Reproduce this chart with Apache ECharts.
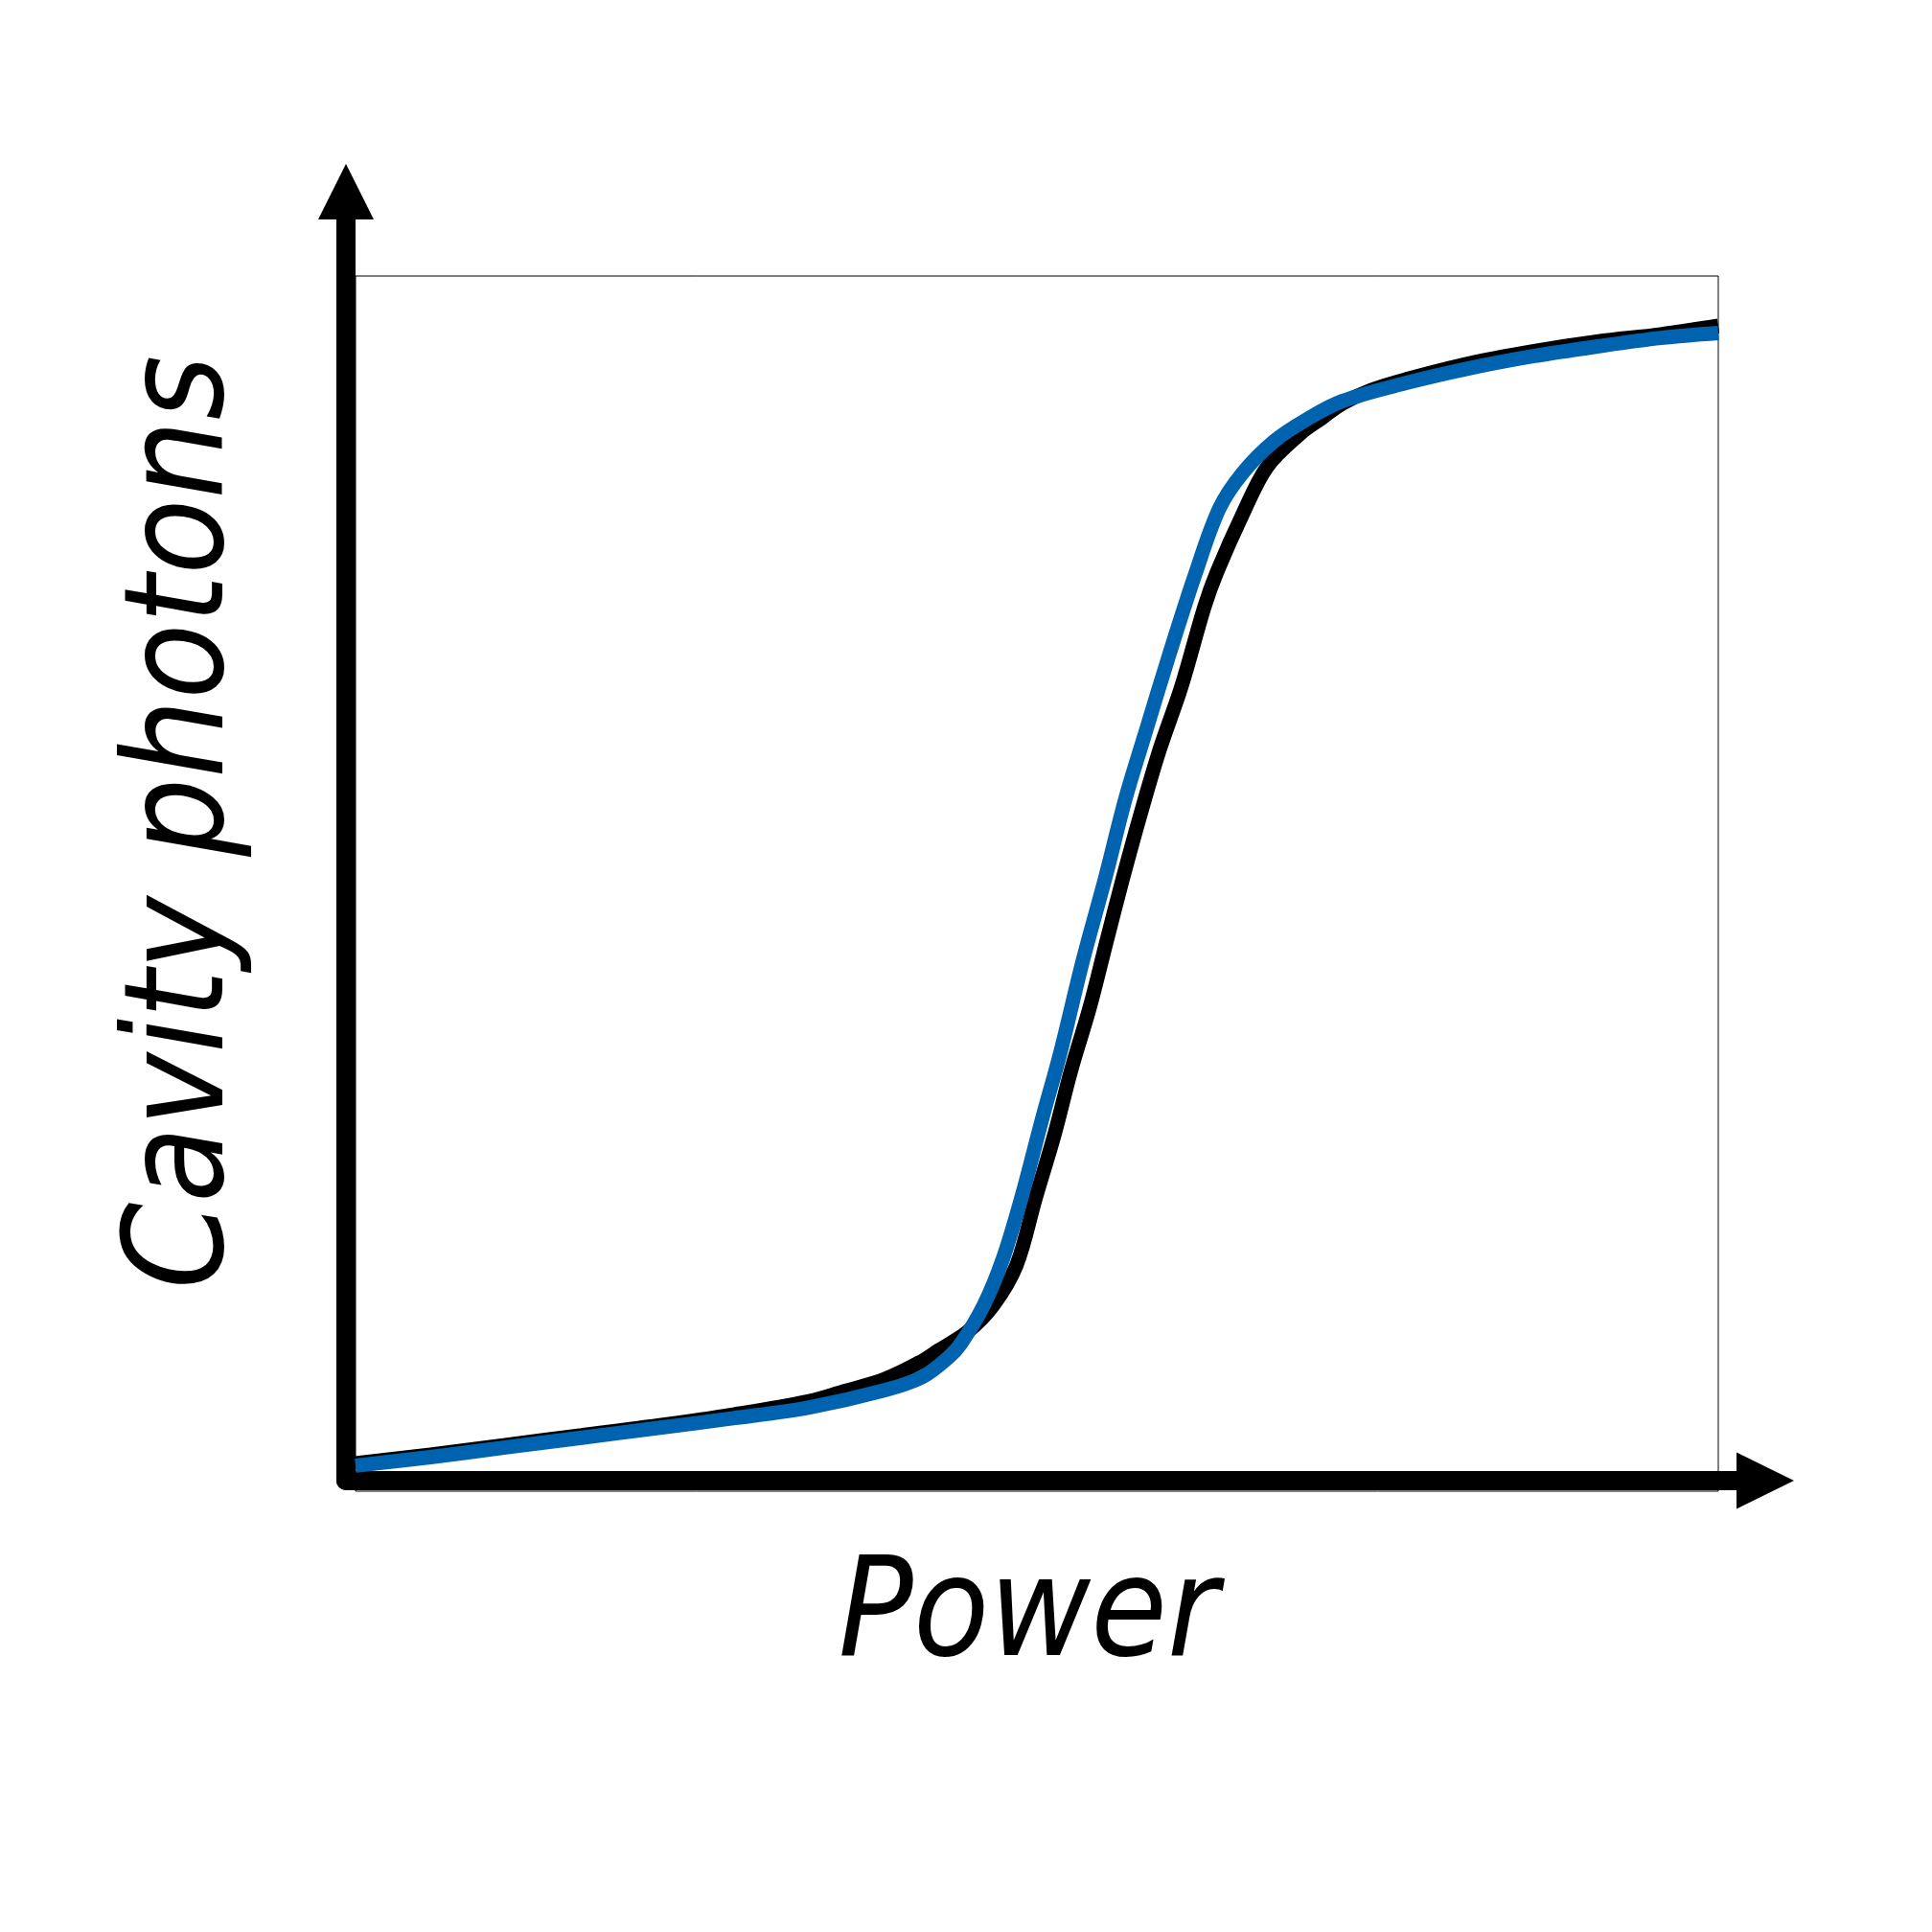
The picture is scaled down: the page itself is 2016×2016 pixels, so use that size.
<!DOCTYPE html>
<html>
<head>
<meta charset="utf-8">
<script src="https://cdn.jsdelivr.net/npm/echarts@6/dist/echarts.min.js"></script>
<style>
html,body{margin:0;padding:0;background:#fff;}
#chart{width:2016px;height:2016px;}
</style>
</head>
<body>
<div id="chart"></div>
<script>
// values, both axes in arbitrary units 0..100
var powerBlue   = [0, 5.5, 11.0, 16.6, 22.2, 27.7, 33.3, 38.8, 41.6, 43.5, 44.4, 46.1, 47.5, 48.9, 50.4, 51.7, 53.4, 55.0, 56.5, 57.9, 59.7, 61.6, 63.4, 65.1, 67.4, 69.8, 72.4, 77.1, 81.7, 86.4, 91.1, 95.8, 100];
var photonsBlue = [2.1, 2.8, 3.6, 4.4, 5.2, 6.0, 6.9, 8.3, 9.4, 11.0, 12.1, 15.3, 19.1, 24.3, 30.7, 36.0, 43.8, 50.4, 57.0, 62.2, 68.8, 75.4, 80.9, 83.8, 86.4, 88.2, 89.7, 91.2, 92.4, 93.4, 94.2, 94.9, 95.3];

var powerBlack   = [0, 5.5, 11.0, 16.6, 22.2, 27.7, 33.3, 35.8, 38.8, 41.4, 42.8, 44.9, 46.8, 48.5, 49.9, 51.3, 52.5, 53.9, 55.1, 56.3, 57.6, 59.0, 60.6, 62.3, 63.2, 65.1, 66.9, 69.3, 70.9, 72.4, 74.5, 77.1, 81.7, 86.4, 91.1, 95.8, 100];
var photonsBlack = [2.3, 3.0, 3.8, 4.6, 5.4, 6.3, 7.4, 8.2, 9.2, 10.6, 11.6, 13.1, 15.3, 18.6, 24.1, 29.4, 34.6, 39.9, 45.2, 50.4, 55.7, 61.0, 66.2, 72.8, 75.6, 80.4, 84.3, 87.0, 88.3, 89.5, 90.6, 91.5, 92.8, 93.8, 94.6, 95.2, 95.9];

var xName = 'Power';
var yName = 'Cavity photons';

function pairs(xs, ys){
    var out = [];
    for(let i in xs){
        out.push([xs[i], ys[i]]);
    }
    return out;
}

var chart = echarts.init(document.getElementById('chart'));

var nameFont = {
    fontSize: 144,
    fontStyle: 'italic',
    fontFamily: "'DejaVu Sans Condensed', 'DejaVu Sans', sans-serif",
    color: '#000'
};
var hidden = {
    axisLine: {show: false},
    axisTick: {show: false},
    axisLabel: {show: false},
    splitLine: {show: false}
};

option = {
    backgroundColor: '#fff',
    animation: false,
    grid: [
        {left: 371, top: 288, width: 1422, height: 1268, show: true, borderColor: '#000', borderWidth: 1},
        // second grid only carries the two arrow axes
        {left: 361, top: 200, width: 1481, height: 1345}
    ],
    xAxis: [
        Object.assign({
            gridIndex: 0, type: 'value', min: 0, max: 100,
            name: xName, nameLocation: 'middle', nameGap: 62,
            nameTextStyle: Object.assign({padding: [0, 18, 0, 0]}, nameFont)
        }, hidden),
        {
            gridIndex: 1, type: 'value', min: 0, max: 1,
            axisLine: {
                show: true, onZero: false,
                symbol: ['none', 'triangle'], symbolSize: [59, 60],
                lineStyle: {color: '#000', width: 20}
            },
            axisTick: {show: false}, axisLabel: {show: false}, splitLine: {show: false}
        }
    ],
    yAxis: [
        Object.assign({
            gridIndex: 0, type: 'value', min: 0, max: 100,
            name: yName, nameLocation: 'middle', nameGap: 104,
            nameTextStyle: Object.assign({padding: [0, 0, 0, 128]}, nameFont)
        }, hidden),
        {
            gridIndex: 1, type: 'value', min: 0, max: 1,
            axisLine: {
                show: true, onZero: false,
                symbol: ['none', 'triangle'], symbolSize: [58, 58],
                lineStyle: {color: '#000', width: 20}
            },
            axisTick: {show: false}, axisLabel: {show: false}, splitLine: {show: false}
        }
    ]
};

option.series = [
    {
        type: 'line', xAxisIndex: 0, yAxisIndex: 0,
        smooth: 0.35, symbol: 'none',
        lineStyle: {color: '#000', width: 15},
        data: pairs(powerBlack, photonsBlack)
    },
    {
        type: 'line', xAxisIndex: 0, yAxisIndex: 0,
        smooth: 0.35, symbol: 'none',
        lineStyle: {color: '#0063AF', width: 15},
        data: pairs(powerBlue, photonsBlue)
    }
];
chart.setOption(option);
</script>
</body>
</html>
